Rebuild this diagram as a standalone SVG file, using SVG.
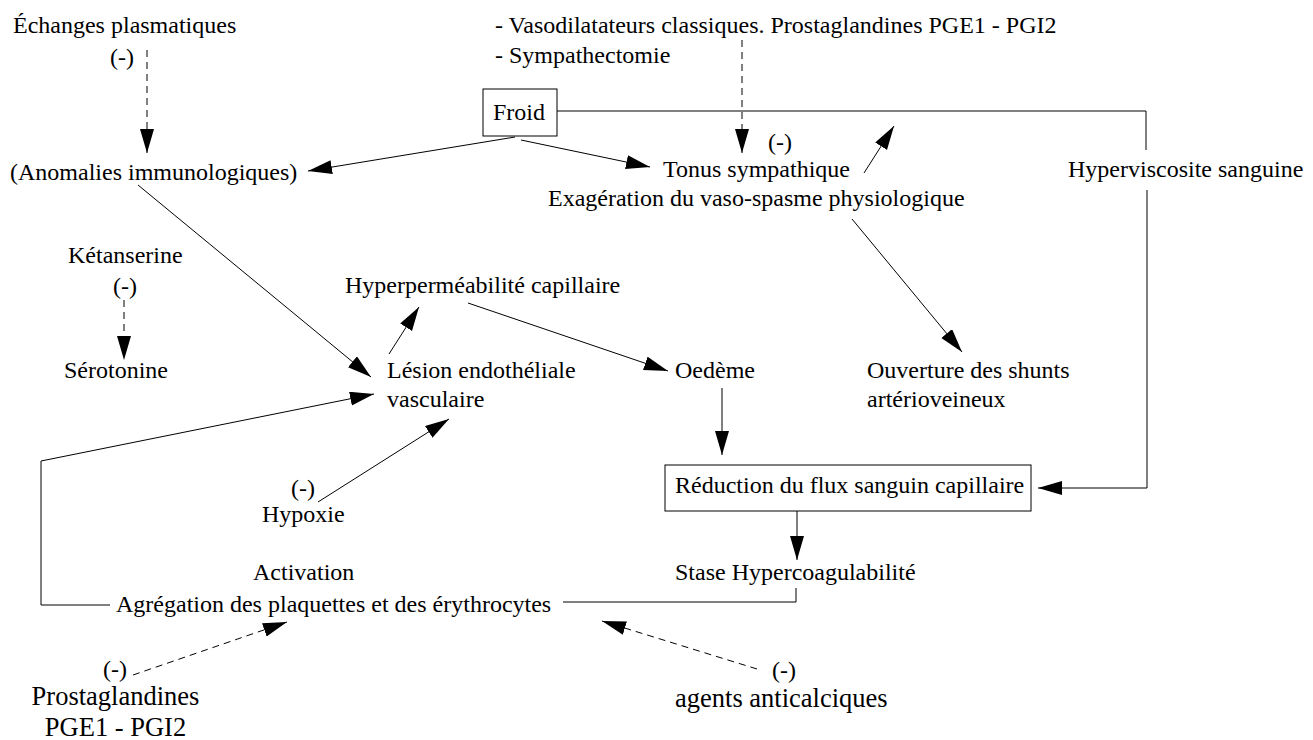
<svg xmlns="http://www.w3.org/2000/svg" width="1313" height="740" viewBox="0 0 1313 740">
<style>
text{font-family:"Liberation Serif","Times New Roman",serif;font-size:24px;fill:#000}
.big{font-size:26.5px}
.ln{fill:none;stroke:#000;stroke-width:1}
.ar{marker-end:url(#ah)}
.da{stroke-dasharray:7,5}
.box{fill:#fff;stroke:#000;stroke-width:1}
</style>
<defs>
<marker id="ah" markerUnits="userSpaceOnUse" markerWidth="26" markerHeight="16" refX="24" refY="7" orient="auto">
<path d="M0,0 L24,7 L0,14 z" fill="#000"/>
</marker>
</defs>
<rect width="1313" height="740" fill="#fff"/>
<g id="connectors">
<line class="ln ar da" x1="147" y1="50" x2="147" y2="153"/>
<line class="ln ar da" x1="742" y1="40" x2="742" y2="153"/>
<line class="ln ar da" x1="124" y1="300" x2="124" y2="360"/>
<line class="ln ar" x1="515" y1="137" x2="308" y2="171"/>
<line class="ln ar" x1="521" y1="140" x2="650" y2="167"/>
<line class="ln ar" x1="864" y1="173" x2="894" y2="126"/>
<polyline class="ln" points="557,111 1146,111 1146,150"/>
<polyline class="ln ar" points="1147,190 1147,488 1038,488"/>
<line class="ln ar" x1="138" y1="185" x2="371" y2="377"/>
<line class="ln ar" x1="852" y1="219" x2="962" y2="352"/>
<line class="ln ar" x1="389" y1="354" x2="419" y2="307"/>
<line class="ln ar" x1="468" y1="303" x2="668" y2="371"/>
<line class="ln ar" x1="722" y1="388" x2="722" y2="455"/>
<line class="ln ar" x1="797" y1="511" x2="797" y2="560"/>
<polyline class="ln" points="796,588 796,602 563,602"/>
<polyline class="ln ar" points="110,605 41,605 41,461 374,394"/>
<line class="ln ar" x1="318" y1="502" x2="449" y2="419"/>
<line class="ln ar da" x1="133" y1="675" x2="287" y2="622"/>
<line class="ln ar da" x1="757" y1="669" x2="602" y2="621"/>
</g>
<g id="echanges"><text x="13" y="33">Échanges plasmatiques</text><text x="110" y="65">(-)</text></g>
<g id="anomalies"><text x="10" y="180">(Anomalies immunologiques)</text></g>
<g id="vasodilatateurs"><text x="495" y="33">- Vasodilatateurs classiques. Prostaglandines PGE1 - PGI2</text><text x="495" y="63">- Sympathectomie</text></g>
<g id="froid"><rect class="box" x="483" y="89" width="74" height="47"/><text x="493" y="120">Froid</text></g>
<g id="tonus"><text x="768" y="150">(-)</text><text x="663" y="177">Tonus sympathique</text><text x="548" y="206">Exagération du vaso-spasme physiologique</text></g>
<g id="hyperviscosite"><text x="1068" y="177">Hyperviscosite sanguine</text></g>
<g id="ketanserine"><text x="68" y="263">Kétanserine</text><text x="113" y="294">(-)</text></g>
<g id="serotonine"><text x="64" y="378">Sérotonine</text></g>
<g id="hyperpermeabilite"><text x="345" y="293">Hyperperméabilité capillaire</text></g>
<g id="lesion"><text x="387" y="378">Lésion endothéliale</text><text x="387" y="407">vasculaire</text></g>
<g id="oedeme"><text x="675" y="378">Oedème</text></g>
<g id="ouverture"><text x="867" y="378">Ouverture des shunts</text><text x="867" y="407">artérioveineux</text></g>
<g id="reduction"><rect class="box" x="665" y="465" width="366" height="46"/><text x="675" y="493">Réduction du flux sanguin capillaire</text></g>
<g id="hypoxie"><text x="291" y="496">(-)</text><text x="262" y="522">Hypoxie</text></g>
<g id="stase"><text x="675" y="580">Stase Hypercoagulabilité</text></g>
<g id="agregation"><text x="253" y="580">Activation</text><text x="116" y="612">Agrégation des plaquettes et des érythrocytes</text></g>
<g id="prostaglandines"><text x="103" y="677">(-)</text><text class="big" x="115.5" y="705" text-anchor="middle">Prostaglandines</text><text class="big" x="115.5" y="736" text-anchor="middle">PGE1 - PGI2</text></g>
<g id="anticalciques"><text x="772" y="678">(-)</text><text class="big" x="675" y="707">agents anticalciques</text></g>
</svg>
